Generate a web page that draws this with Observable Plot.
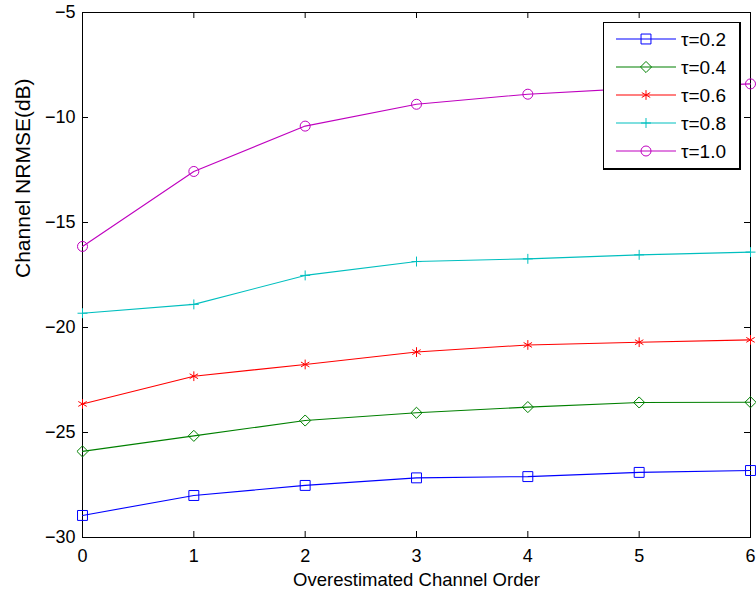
<!DOCTYPE html>
<html><head><meta charset="utf-8">
<script src="https://cdn.jsdelivr.net/npm/d3@7"></script>
<script src="https://cdn.jsdelivr.net/npm/@observablehq/plot@0.6"></script>
<style>
html,body{margin:0;padding:0;background:#fff;}
#wrap{position:relative;width:756px;height:598px;font-family:"Liberation Sans",Arial,sans-serif;}
#legend{position:absolute;left:603px;top:22px;width:135px;height:145px;background:#fff;border:1px solid #000;border-right-width:2px;border-bottom-width:2px;}
</style></head><body><div id="wrap"></div>
<script>
// ---- data ----
const orders = [0, 1, 2, 3, 4, 5, 6];
const seriesLabels = ["τ=0.2", "τ=0.4", "τ=0.6", "τ=0.8", "τ=1.0"];
const tau02 = [-28.95, -28.00, -27.52, -27.16, -27.10, -26.90, -26.81];
const tau04 = [-25.90, -25.16, -24.43, -24.06, -23.79, -23.57, -23.56];
const tau06 = [-23.64, -22.32, -21.76, -21.17, -20.83, -20.70, -20.59];
const tau08 = [-19.32, -18.90, -17.52, -16.86, -16.73, -16.54, -16.41];
const tau10 = [-16.14, -12.57, -10.41, -9.37, -8.89, -8.60, -8.40];
const xTicks = [0, 1, 2, 3, 4, 5, 6];
const yTicks = [-30, -25, -20, -15, -10, -5];
const xLabel = "Overestimated Channel Order";
const yLabel = "Channel NRMSE(dB)";

// ---- styles ----
const seriesValues = [tau02, tau04, tau06, tau08, tau10];
const colors = ["#0000ff", "#008000", "#ff0000", "#00bfbf", "#bf00bf"];
const symbols = ["square", "diamond2", "asterisk", "plus", "circle"];
const symbolR = [5.6, 5.0, 4.6, 3.3, 5.0];

const rows = [];
seriesValues.forEach((vals, i) => vals.forEach((v, j) => rows.push({series: i, x: orders[j], y: v})));

const W = 756, H = 598, mL = 82, mR = 6, mT = 12, mB = 61;
const fw = W - mL - mR, fh = H - mT - mB, tl = 6;
const FONT = "Liberation Sans, Arial, sans-serif";

const marks = [
  Plot.frame({stroke: "black", strokeWidth: 1}),
  Plot.tickX(xTicks, {x: d => d, insetTop: fh - tl, stroke: "black"}),
  Plot.tickX(xTicks, {x: d => d, insetBottom: fh - tl, stroke: "black"}),
  Plot.tickY(yTicks, {y: d => d, insetRight: fw - tl, stroke: "black"}),
  Plot.tickY(yTicks, {y: d => d, insetLeft: fw - tl, stroke: "black"}),
  Plot.axisX({ticks: xTicks, tickSize: 0, tickPadding: 12, tickFormat: d => String(d), fontSize: 18, label: null}),
  Plot.axisY({ticks: yTicks, tickSize: 0, tickPadding: 7, fontSize: 18, label: null}),
  Plot.text([xLabel], {text: d => d, frameAnchor: "bottom", dy: 43, lineAnchor: "middle", fontSize: 18.5, fill: "black"}),
  Plot.text([yLabel], {text: d => d, frameAnchor: "left", dx: -59, dy: 3, rotate: -90, lineAnchor: "middle", fontSize: 21, fill: "black"})
];
seriesValues.forEach((_, i) => {
  const d = rows.filter(r => r.series === i);
  marks.push(Plot.line(d, {x: "x", y: "y", stroke: colors[i], strokeWidth: 1.1}));
  marks.push(Plot.dot(d, {x: "x", y: "y", symbol: symbols[i], r: symbolR[i], stroke: colors[i], fill: "none", strokeWidth: 1}));
});

const chart = Plot.plot({
  width: W, height: H,
  marginLeft: mL, marginRight: mR, marginTop: mT, marginBottom: mB,
  x: {domain: [0, 6]},
  y: {domain: [-30, -5]},
  style: {fontFamily: FONT, fontSize: "18px", background: "white", overflow: "visible", color: "black"},
  marks
});
const wrap = document.getElementById("wrap");
wrap.appendChild(chart);

// ---- legend ----
const legend = document.createElement("div");
legend.id = "legend";
wrap.appendChild(legend);
const symMap = {square: d3.symbolSquare, diamond2: d3.symbolDiamond2, asterisk: d3.symbolAsterisk, plus: d3.symbolPlus, circle: d3.symbolCircle};
const svg = d3.select(legend).append("svg").attr("width", 135).attr("height", 145).style("display", "block");
seriesLabels.forEach((lab, i) => {
  const y = 16 + i * 28;
  const g = svg.append("g").attr("transform", `translate(0,${y})`);
  g.append("line").attr("x1", 12).attr("x2", 72).attr("y1", 0).attr("y2", 0).attr("stroke", colors[i]).attr("stroke-width", 1.1);
  g.append("path").attr("transform", "translate(42,0)")
    .attr("d", d3.symbol(symMap[symbols[i]], symbolR[i] * symbolR[i] * Math.PI)())
    .attr("fill", "none").attr("stroke", colors[i]);
  g.append("text").attr("x", 77).attr("y", 0).attr("dy", "0.35em").text(lab)
    .attr("font-family", FONT).attr("font-size", 19).attr("fill", "black");
});
</script></body></html>
